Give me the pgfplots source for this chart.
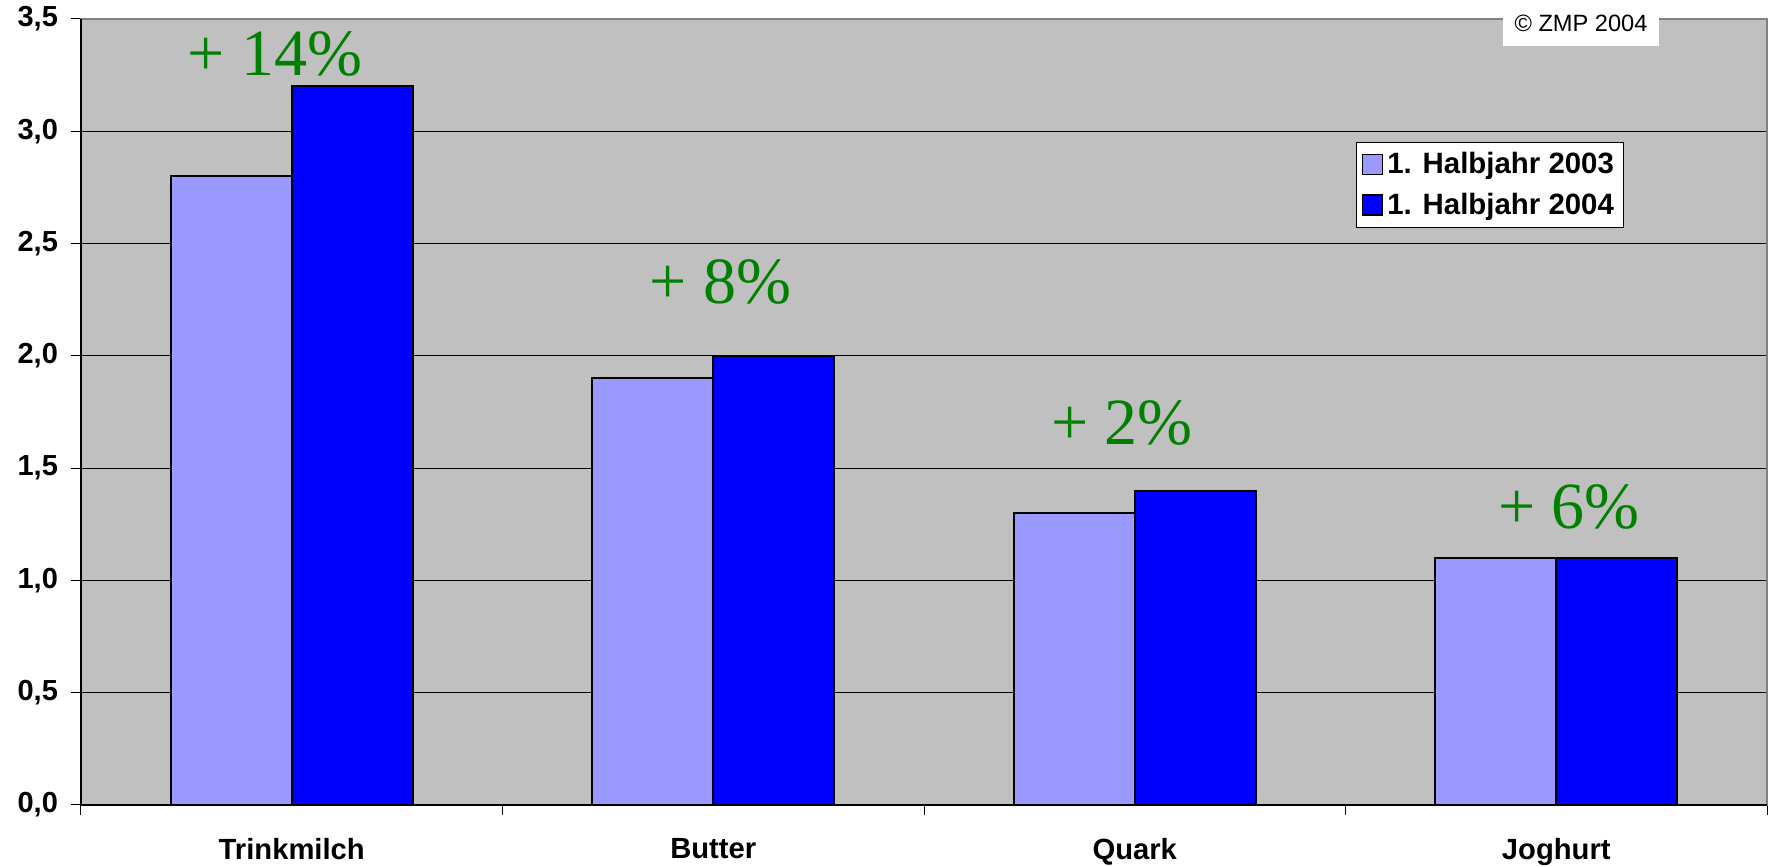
\documentclass[border=0pt]{standalone}
\usepackage{fontspec}
\setmainfont{Liberation Sans}
\newfontfamily\serifgreen{Liberation Serif}
\usepackage{pgfplots}
\pgfplotsset{compat=1.18}
\definecolor{bg}{HTML}{C0C0C0}
\definecolor{light}{HTML}{9999FF}
\definecolor{dark}{HTML}{0000FF}
\definecolor{grn}{HTML}{008000}
\definecolor{frame}{HTML}{808080}
\begin{document}
\begin{tikzpicture}
\begin{axis}[
  width=843pt, height=393pt, scale only axis,
  xmin=-0.5, xmax=3.5, ymin=0, ymax=3.5,
  clip=false,
  axis background/.style={fill=bg},
  axis line style={draw=frame, line width=0.6pt},
  ytick={0,0.5,...,3.5},
  ymajorgrids, grid style={black, line width=0.5pt},
  xtick={0,1,2,3},
  xticklabels={Trinkmilch,Butter,Quark,Joghurt},
  minor xtick={-0.5,0.5,1.5,2.5,3.5},
  tick pos=left,
  tick align=outside,
  major tick length=5pt,
  minor tick length=5pt,
  major x tick style={draw=none},
  minor x tick style={black, line width=0.5pt},
  major y tick style={black, line width=0.5pt},
  yticklabel style={font=\bfseries\fontsize{14.5}{16}\selectfont, xshift=-3pt,
    /pgf/number format/.cd, fixed, fixed zerofill, precision=1, use comma, assume math mode=true},
  xticklabel style={font=\bfseries\fontsize{14.6}{16}\selectfont, yshift=-8pt},
  legend style={at={(axis description cs:0.756,0.8435)}, anchor=north west,
    fill=white, draw=black, line width=0.5pt,
    font=\bfseries\fontsize{14.7}{16}\selectfont, row sep=4pt,
    inner xsep=3pt, inner ysep=3pt},
  legend cell align=left,
]
\addplot[ybar, bar width=0.287, bar shift=-0.1435, fill=light, draw=black, line width=1pt,
  legend image code/.code={\draw[fill=light, draw=black, line width=0.6pt] (0pt,-5pt) rectangle (10pt,5pt);}]
  coordinates {(0,2.8) (1,1.9) (2,1.3) (3,1.1)};
\addlegendentry{1. Halbjahr 2003}
\addplot[ybar, bar width=0.287, bar shift=0.1435, fill=dark, draw=black, line width=1pt,
  legend image code/.code={\draw[fill=dark, draw=black, line width=0.6pt] (0pt,-5pt) rectangle (10pt,5pt);}]
  coordinates {(0,3.2) (1,2.0) (2,1.4) (3,1.1)};
\addlegendentry{1. Halbjahr 2004}
\draw[frame, line width=0.6pt] (rel axis cs:0,1) -- (rel axis cs:1,1) -- (rel axis cs:1,0);
\draw[black, line width=0.6pt] (rel axis cs:0,1) -- (rel axis cs:0,0) -- (rel axis cs:1,0);
\node[font=\serifgreen\fontsize{33}{33}\selectfont, text=grn] at (axis cs:-0.04,3.344) {+ 14\%};
\node[font=\serifgreen\fontsize{33}{33}\selectfont, text=grn] at (axis cs:1.018,2.329) {+ 8\%};
\node[font=\serifgreen\fontsize{33}{33}\selectfont, text=grn] at (axis cs:1.97,1.701) {+ 2\%};
\node[font=\serifgreen\fontsize{33}{33}\selectfont, text=grn] at (axis cs:3.03,1.327) {+ 6\%};
\node[fill=white, font=\fontsize{11.8}{14}\selectfont, minimum width=78pt, minimum height=23pt,
  anchor=north, inner sep=0pt] at (axis description cs:0.8897,1.0242) {© ZMP 2004};
\coordinate (bl) at (rel axis cs:0,0);
\end{axis}
\pgfresetboundingbox
\path[use as bounding box] ([shift={(-40.5pt,-30.5pt)}]bl) rectangle ++(886pt,433pt);
\end{tikzpicture}
\end{document}
